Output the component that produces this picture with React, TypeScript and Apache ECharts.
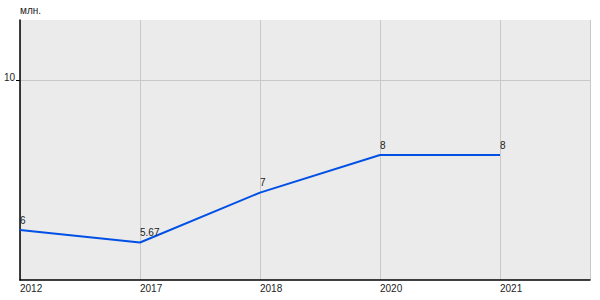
import React, { useEffect, useRef } from "react";
import * as echarts from "echarts";

const categories = ["2012", "2017", "2018", "2020", "2021"];
const values = [6, 5.67, 7, 8, 8];
const yTicks = [10];
const yName = "млн.";

export default function App() {
  const ref = useRef<HTMLDivElement>(null);
  useEffect(() => {
    if (!ref.current) return;
    const chart = echarts.init(ref.current, undefined, { renderer: "svg" });
    const font = "Arial, 'Liberation Sans', sans-serif";
    chart.setOption({
      animation: false,
      grid: {
        left: 20,
        right: 10,
        top: 20,
        bottom: 20,
        show: true,
        backgroundColor: "#ebebeb",
        borderWidth: 0,
      },
      xAxis: {
        type: "value",
        min: 0,
        max: 4.75,
        interval: 1,
        axisLine: { show: true, lineStyle: { color: "#000", width: 1.5 } },
        axisTick: { show: false },
        axisLabel: {
          formatter: (v: number) => (Number.isInteger(v) ? categories[v] ?? "" : ""),
          align: "left",
          color: "#222",
          fontSize: 10,
          fontFamily: font,
          margin: 3,
          showMaxLabel: false,
        },
        splitLine: { show: true, lineStyle: { color: "#c8c8c8", width: 1 } },
      },
      yAxis: {
        type: "value",
        min: 4.67,
        max: 11.6,
        name: yName,
        nameLocation: "end",
        nameGap: 5,
        nameTextStyle: { align: "left", color: "#222", fontSize: 10, fontFamily: font },
        axisLine: { show: true, lineStyle: { color: "#000", width: 1.5 } },
        axisTick: { show: true, customValues: yTicks, length: 4, lineStyle: { color: "#000" } },
        axisLabel: { customValues: yTicks, color: "#222", fontSize: 10, fontFamily: font, margin: 5, verticalAlign: "bottom", lineHeight: 6 },
        splitLine: { show: true, lineStyle: { color: "#c8c8c8", width: 1 } },
      },
      series: [
        {
          type: "line",
          data: values.map((v, i) => [i, v]),
          symbol: "circle",
          symbolSize: 0.1,
          lineStyle: { color: "#0050e6", width: 2 },
          itemStyle: { color: "#0050e6" },
          label: {
            show: true,
            position: "top",
            align: "left",
            distance: 5,
            color: "#222",
            fontSize: 10,
            fontFamily: font,
          },
        },
      ],
    });
    return () => chart.dispose();
  }, []);
  return <div ref={ref} style={{ width: 600, height: 300, position: "absolute", left: 0, top: 0 }} />;
}
